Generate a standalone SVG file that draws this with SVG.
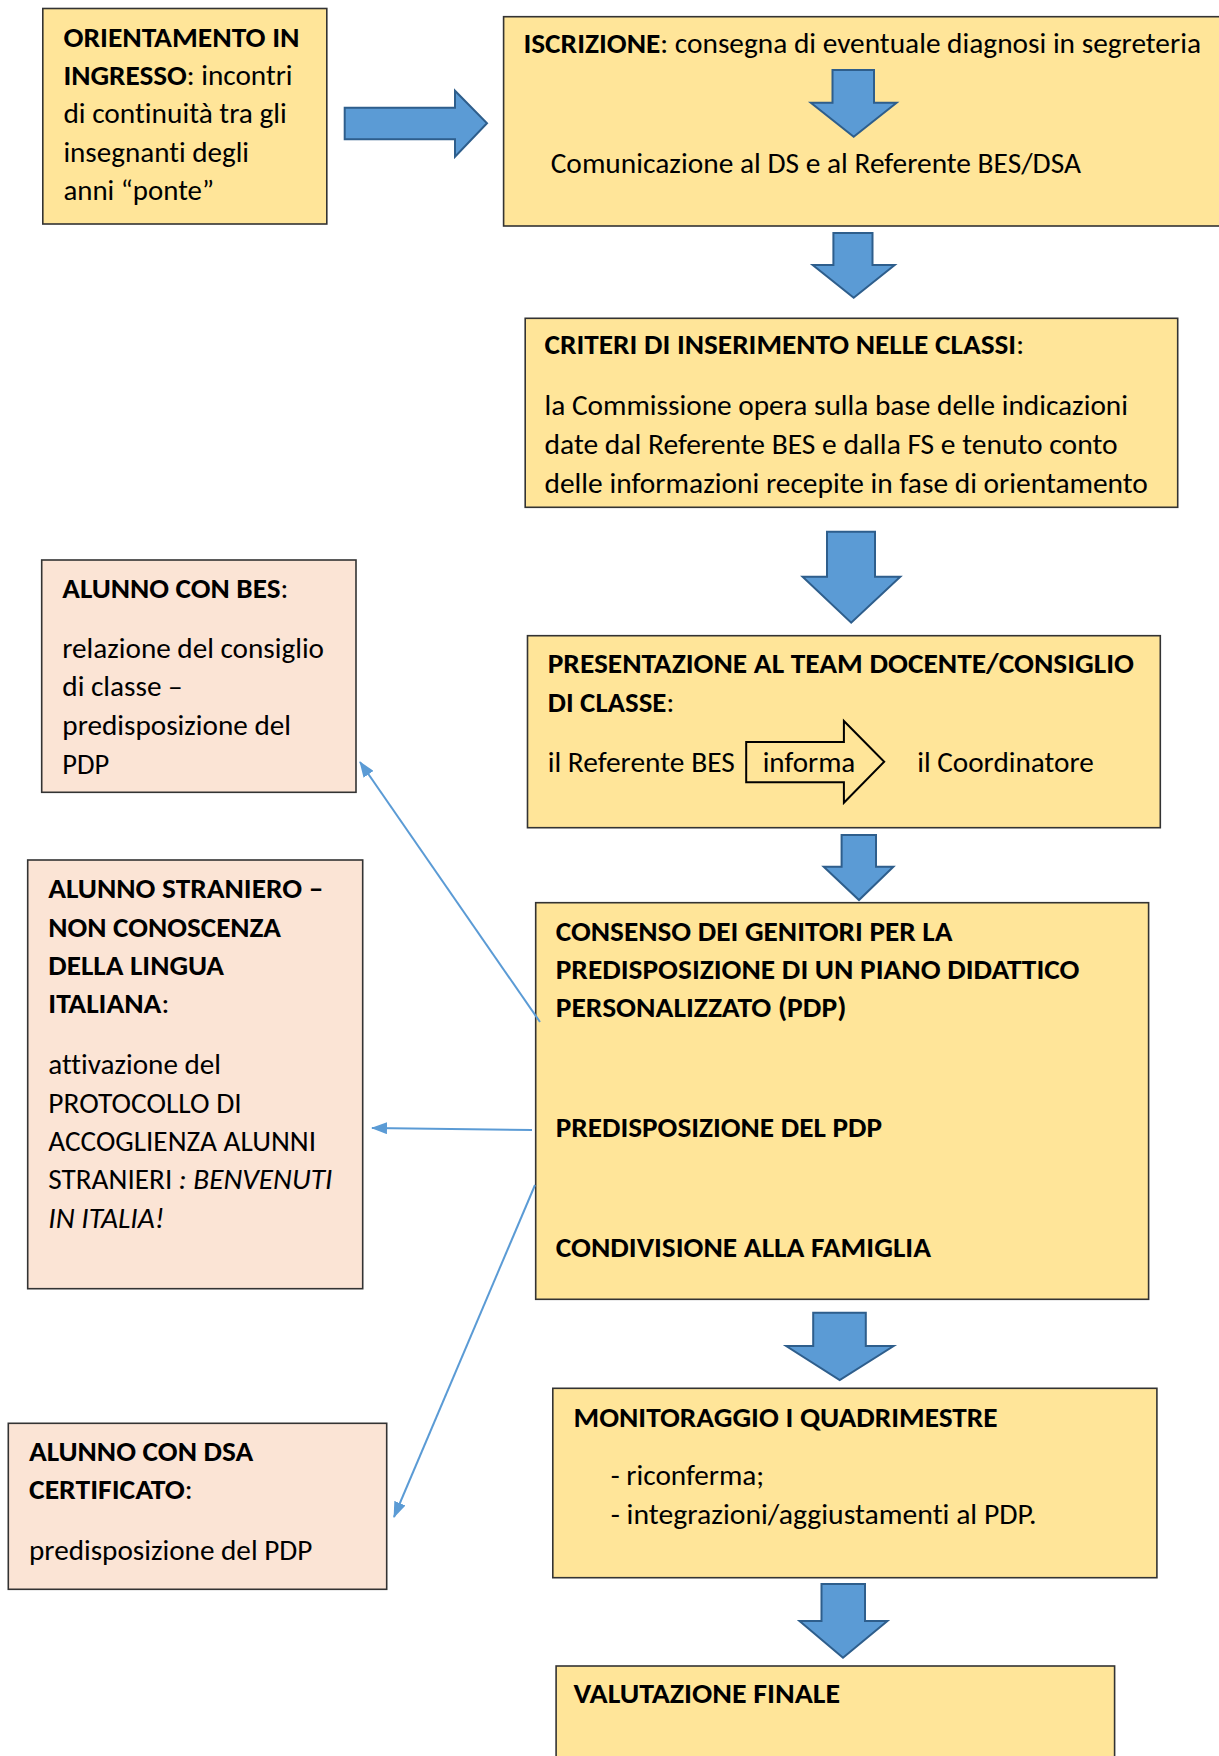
<svg xmlns="http://www.w3.org/2000/svg" width="1219" height="1756" viewBox="0 0 1219 1756">
<defs>
<style>
.y{fill:#FFE599;stroke:#333;stroke-width:1.6}
.p{fill:#FBE4D5;stroke:#333;stroke-width:1.6}
.ba{fill:#5B9BD5;stroke:#2E5E8C;stroke-width:2;stroke-linejoin:miter}
.t{font-family:Carlito,Lato,"Liberation Sans",sans-serif;font-size:29px;fill:#000;font-variant-ligatures:none;font-feature-settings:"liga" 0,"clig" 0}
.b{font-weight:bold}
.i{font-style:italic}
.c{stroke:#5B9BD5;stroke-width:2;fill:none}
</style>
<marker id="ah" markerWidth="16" markerHeight="12" refX="15" refY="6" orient="auto" markerUnits="userSpaceOnUse">
<path d="M0,0 L16,6 L0,12 z" fill="#5B9BD5"/>
</marker>
</defs>
<rect width="1219" height="1756" fill="#fff"/>

<g id="orientamento">
<rect class="y" x="42.8" y="8.5" width="284" height="215.5"/>
<text class="t" x="63.4" y="46.7" textLength="236.2" lengthAdjust="spacingAndGlyphs"><tspan class="b">ORIENTAMENTO IN</tspan></text>
<text class="t" x="63.4" y="85" textLength="229.2" lengthAdjust="spacingAndGlyphs"><tspan class="b">INGRESSO</tspan>: incontri</text>
<text class="t" x="63.4" y="123.3" textLength="223.4" lengthAdjust="spacingAndGlyphs">di continuità tra gli</text>
<text class="t" x="63.4" y="161.7" textLength="185.6" lengthAdjust="spacingAndGlyphs">insegnanti degli</text>
<text class="t" x="63.4" y="200" textLength="150.6" lengthAdjust="spacingAndGlyphs">anni “ponte”</text>
</g>

<g id="iscrizione">
<rect class="y" x="503.6" y="16.7" width="730" height="209.3"/>
<text class="t" x="523.4" y="53.3" textLength="677.6" lengthAdjust="spacingAndGlyphs"><tspan class="b">ISCRIZIONE</tspan>: consegna di eventuale diagnosi in segreteria</text>
<polygon class="ba" points="832.5,70 874,70 874,102.7 896.6,102.7 853.7,136.7 810.8,102.7 832.5,102.7"/>
<text class="t" x="550.7" y="173.3" textLength="530.3" lengthAdjust="spacingAndGlyphs">Comunicazione al DS e al Referente BES/DSA</text>
</g>

<g id="criteri">
<rect class="y" x="525.2" y="318.3" width="652.5" height="189"/>
<text class="t" x="544.5" y="354.3" textLength="479.5" lengthAdjust="spacingAndGlyphs"><tspan class="b">CRITERI DI INSERIMENTO NELLE CLASSI</tspan>:</text>
<text class="t" x="544.5" y="415" textLength="583.5" lengthAdjust="spacingAndGlyphs">la Commissione opera sulla base delle indicazioni</text>
<text class="t" x="544.5" y="454" textLength="573.1" lengthAdjust="spacingAndGlyphs">date dal Referente BES e dalla FS e tenuto conto</text>
<text class="t" x="544.5" y="492.7" textLength="603.4" lengthAdjust="spacingAndGlyphs">delle informazioni recepite in fase di orientamento</text>
</g>

<g id="presentazione">
<rect class="y" x="527.5" y="635.7" width="632.8" height="192"/>
<text class="t" x="547.7" y="673.3" textLength="586.3" lengthAdjust="spacingAndGlyphs"><tspan class="b">PRESENTAZIONE AL TEAM DOCENTE/CONSIGLIO</tspan></text>
<text class="t" x="547.7" y="711.7" textLength="126.5" lengthAdjust="spacingAndGlyphs"><tspan class="b">DI CLASSE</tspan>:</text>
<text class="t" x="547.7" y="771.7" textLength="187.1" lengthAdjust="spacingAndGlyphs">il Referente BES</text>
<polygon points="746.2,742 843.9,742 843.9,721 884.2,761.7 843.9,802.7 843.9,782.3 746.2,782.3" fill="#FFE599" stroke="#000" stroke-width="2"/>
<text class="t" x="762.7" y="771.7" textLength="92.6" lengthAdjust="spacingAndGlyphs">informa</text>
<text class="t" x="917.2" y="771.7" textLength="176.6" lengthAdjust="spacingAndGlyphs">il Coordinatore</text>
</g>

<g id="consenso">
<rect class="y" x="535.7" y="902.7" width="612.9" height="396.6"/>
<text class="t b" x="555.7" y="940.5" textLength="396.8" lengthAdjust="spacingAndGlyphs">CONSENSO DEI GENITORI PER LA</text>
<text class="t b" x="555.7" y="978.8" textLength="523.8" lengthAdjust="spacingAndGlyphs">PREDISPOSIZIONE DI UN PIANO DIDATTICO</text>
<text class="t b" x="555.7" y="1017.1" textLength="290.7" lengthAdjust="spacingAndGlyphs">PERSONALIZZATO (PDP)</text>
<text class="t b" x="555.7" y="1137.3" textLength="326.3" lengthAdjust="spacingAndGlyphs">PREDISPOSIZIONE DEL PDP</text>
<text class="t b" x="555.7" y="1257.3" textLength="375.3" lengthAdjust="spacingAndGlyphs">CONDIVISIONE ALLA FAMIGLIA</text>
</g>

<g id="monitoraggio">
<rect class="y" x="552.8" y="1388.3" width="604.1" height="189.4"/>
<text class="t b" x="573.5" y="1426.7" textLength="424.2" lengthAdjust="spacingAndGlyphs">MONITORAGGIO I QUADRIMESTRE</text>
<text class="t" x="610.8" y="1485" textLength="153.4" lengthAdjust="spacingAndGlyphs">- riconferma;</text>
<text class="t" x="610.8" y="1524.3" textLength="425.8" lengthAdjust="spacingAndGlyphs">- integrazioni/aggiustamenti al PDP.</text>
</g>

<g id="valutazione">
<rect class="y" x="556.1" y="1666" width="558.5" height="110"/>
<text class="t b" x="573.5" y="1703.3" textLength="266.6" lengthAdjust="spacingAndGlyphs">VALUTAZIONE FINALE</text>
</g>

<g id="bes">
<rect class="p" x="41.7" y="560" width="314.3" height="232.3"/>
<text class="t" x="62.3" y="597.7" textLength="226" lengthAdjust="spacingAndGlyphs"><tspan class="b">ALUNNO CON BES</tspan>:</text>
<text class="t" x="62.3" y="657.7" textLength="261.7" lengthAdjust="spacingAndGlyphs">relazione del consiglio</text>
<text class="t" x="62.3" y="696.4" textLength="120.4" lengthAdjust="spacingAndGlyphs">di classe –</text>
<text class="t" x="62.3" y="735.1" textLength="228.7" lengthAdjust="spacingAndGlyphs">predisposizione del</text>
<text class="t" x="62.3" y="773.8" textLength="47" lengthAdjust="spacingAndGlyphs">PDP</text>
</g>

<g id="straniero">
<rect class="p" x="27.7" y="860" width="335" height="428.7"/>
<text class="t b" x="48.3" y="898.3" textLength="275" lengthAdjust="spacingAndGlyphs">ALUNNO STRANIERO –</text>
<text class="t b" x="48.3" y="936.7" textLength="232.7" lengthAdjust="spacingAndGlyphs">NON CONOSCENZA</text>
<text class="t b" x="48.3" y="975" textLength="175.7" lengthAdjust="spacingAndGlyphs">DELLA LINGUA</text>
<text class="t" x="48.3" y="1013.3" textLength="121" lengthAdjust="spacingAndGlyphs"><tspan class="b">ITALIANA</tspan>:</text>
<text class="t" x="48.3" y="1074" textLength="172.7" lengthAdjust="spacingAndGlyphs">attivazione del</text>
<text class="t" x="48.3" y="1112.5" textLength="193.4" lengthAdjust="spacingAndGlyphs">PROTOCOLLO DI</text>
<text class="t" x="48.3" y="1151" textLength="267.7" lengthAdjust="spacingAndGlyphs">ACCOGLIENZA ALUNNI</text>
<text class="t" x="48.3" y="1189.3" textLength="284" lengthAdjust="spacingAndGlyphs">STRANIERI <tspan class="i">: BENVENUTI</tspan></text>
<text class="t i" x="48.3" y="1227.7" textLength="116" lengthAdjust="spacingAndGlyphs">IN ITALIA!</text>
</g>

<g id="dsa">
<rect class="p" x="8.3" y="1423.3" width="378.4" height="166"/>
<text class="t b" x="29" y="1461" textLength="224.3" lengthAdjust="spacingAndGlyphs">ALUNNO CON DSA</text>
<text class="t" x="29" y="1499.3" textLength="163.7" lengthAdjust="spacingAndGlyphs"><tspan class="b">CERTIFICATO</tspan>:</text>
<text class="t" x="29" y="1560" textLength="283.3" lengthAdjust="spacingAndGlyphs">predisposizione del PDP</text>
</g>

<g id="connectors">
<polygon class="ba" points="344.7,107.7 455,107.7 455,90.7 487,123.3 455,156.7 455,139.3 344.7,139.3"/>
<polygon class="ba" points="833.4,233 872.5,233 872.5,265 894.7,265 853.7,297.7 812.7,265 833.4,265"/>
<polygon class="ba" points="827,531.7 875,531.7 875,576.7 900.3,576.7 851.2,622.7 802.6,576.7 827,576.7"/>
<polygon class="ba" points="841.6,835 876,835 876,866.7 893.4,866.7 859,900 823.7,866.7 841.6,866.7"/>
<polygon class="ba" points="813.2,1312.7 865.8,1312.7 865.8,1346 893.6,1346 839.7,1380 786.2,1346 813.2,1346"/>
<polygon class="ba" points="821.5,1584 865,1584 865,1621 887.4,1621 843,1657.7 799.5,1621 821.5,1621"/>
<line class="c" x1="540" y1="1022" x2="360" y2="762" marker-end="url(#ah)"/>
<line class="c" x1="532" y1="1130" x2="372" y2="1128" marker-end="url(#ah)"/>
<line class="c" x1="535" y1="1185" x2="394" y2="1517" marker-end="url(#ah)"/>
</g>
</svg>
